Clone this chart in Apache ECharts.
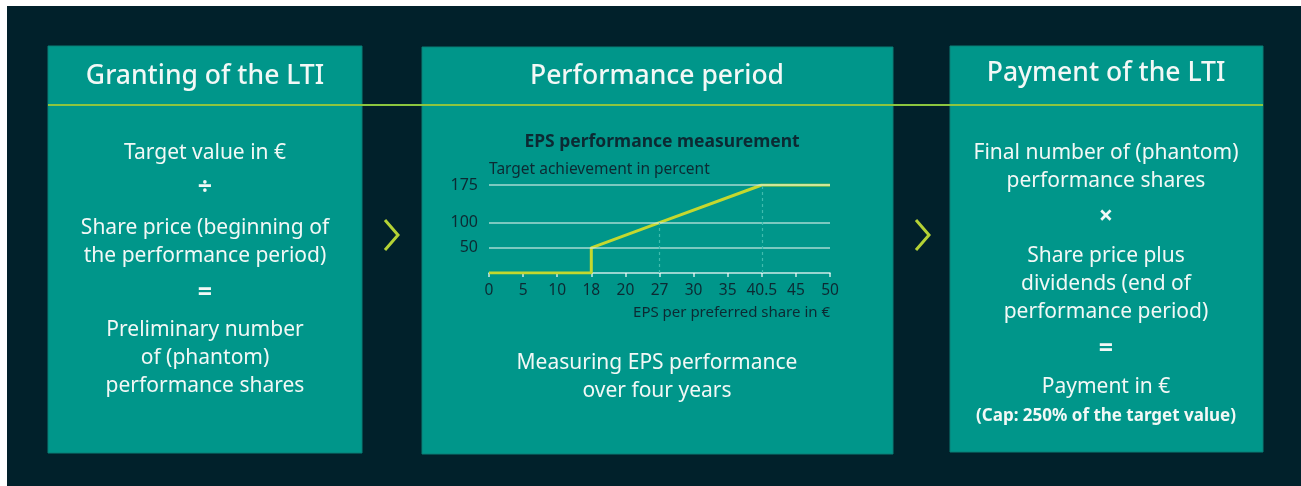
<!DOCTYPE html>
<html>
<head>
<meta charset="utf-8">
<script src="https://cdn.jsdelivr.net/npm/echarts@6/dist/echarts.min.js"></script>
<style>
  html, body { margin: 0; padding: 0; background: #ffffff; }
  #main { width: 1301px; height: 486px; }
</style>
</head>
<body>
<div id="main"></div>
<script>
// x axis categories (EPS per preferred share in €), evenly spaced in the source
var epsLabels = ['0', '5', '10', '18', '20', '27', '30', '35', '40.5', '45', '50'];
// knots of the target achievement curve
var curveEps = ['0', '18', '18', '27', '40.5', '50'];
var curvePct = [0, 0, 50, 100, 175, 175];
// y tick values shown on the axis
var pctTicks = [50, 100, 175];
// dashed guides: [eps, pct]
var guides = [['27', 100], ['40.5', 175]];

var chart = echarts.init(document.getElementById('main'), null, { renderer: 'canvas' });

var DARK = '#01212b';
var TEAL = '#00968a';
var INK = '#0c2a33';
var WHITE = '#f2f8f6';
var LIME = '#c4d82e';
var FONT = '"Noto Sans", "Open Sans", sans-serif';
var BODY = 21;
var HEAD = 26.5;

function txt(str, x, y, size, weight, color) {
  return {
    type: 'text',
    z: 5,
    style: {
      text: str,
      x: x,
      y: y,
      fill: color || WHITE,
      font: (weight || 'normal') + ' ' + size + 'px ' + FONT,
      align: 'center',
      verticalAlign: 'middle'
    }
  };
}

function panel(x1, y1, x2, y2) {
  return {
    type: 'rect',
    z: -5,
    shape: { x: x1, y: y1, width: x2 - x1, height: y2 - y1 },
    style: { fill: TEAL, stroke: '#0a7f76', lineWidth: 1 }
  };
}

function chevron(x, y) {
  return {
    type: 'polyline',
    z: 5,
    shape: { points: [[x, y - 15], [x + 13, y], [x, y + 15]] },
    style: { stroke: '#b4d235', lineWidth: 3, fill: null }
  };
}

var graphics = [
  { type: 'rect', z: -10, shape: { x: 7, y: 6, width: 1294, height: 480 }, style: { fill: DARK } },
  panel(48, 46, 362, 453),
  panel(422, 47, 893, 454),
  panel(950, 46, 1263, 452),
  { type: 'line', z: 4, shape: { x1: 48, y1: 105, x2: 1263, y2: 105 }, style: { stroke: '#8cc63f', lineWidth: 2 } },
  chevron(385, 235),
  chevron(916, 235),

  // panel 1
  txt('Granting of the LTI', 205, 76, HEAD, '500'),
  txt('Target value in €', 205, 153, BODY),
  txt('÷', 205, 188, 25, 'bold'),
  txt('Share price (beginning of', 205, 228, BODY),
  txt('the performance period)', 205, 256, BODY),
  txt('=', 205, 293, 25, 'bold'),
  txt('Preliminary number', 205, 330, BODY),
  txt('of (phantom)', 205, 358, BODY),
  txt('performance shares', 205, 386, BODY),

  // panel 2
  txt('Performance period', 657, 76, HEAD, '500'),
  txt('Measuring EPS performance', 657, 363, BODY),
  txt('over four years', 657, 391, BODY),

  // panel 3
  txt('Payment of the LTI', 1106, 73, HEAD, '500'),
  txt('Final number of (phantom)', 1106, 153, BODY),
  txt('performance shares', 1106, 181, BODY),
  txt('×', 1106, 217, 25, 'bold'),
  txt('Share price plus', 1106, 256, BODY),
  txt('dividends (end of', 1106, 284, BODY),
  txt('performance period)', 1106, 312, BODY),
  txt('=', 1106, 349, 25, 'bold'),
  txt('Payment in €', 1106, 387, BODY),
  txt('(Cap: 250% of the target value)', 1106, 416, 17, 'bold')
];

var curveData = curveEps.map(function (x, i) { return [x, curvePct[i]]; });

var option = {
  backgroundColor: '#ffffff',
  animation: false,
  title: {
    text: 'EPS performance measurement',
    left: 657,
    top: 128,
    textAlign: 'center',
    textStyle: { color: INK, fontSize: 17.5, fontWeight: 'bold', fontFamily: FONT }
  },
  graphic: graphics,
  grid: { left: 489, right: 471, top: 185, bottom: 213, containLabel: false },
  xAxis: {
    type: 'category',
    data: epsLabels,
    boundaryGap: false,
    name: 'EPS per preferred share in €',
    nameLocation: 'end',
    nameGap: 0,
    nameTextStyle: {
      color: INK, fontSize: 15, fontFamily: FONT,
      align: 'right', verticalAlign: 'top', padding: [32, 0, 0, 0]
    },
    axisLine: { lineStyle: { color: 'rgba(255,255,255,0.8)', width: 1.5 } },
    axisTick: { show: true, length: 4, lineStyle: { color: 'rgba(255,255,255,0.8)', width: 1.5 } },
    axisLabel: { color: INK, fontSize: 15.5, fontFamily: FONT, margin: 10, interval: 0 },
    splitLine: { show: false }
  },
  yAxis: {
    type: 'value',
    min: 0,
    max: 175,
    name: 'Target achievement in percent',
    nameLocation: 'end',
    nameGap: 15,
    nameTextStyle: { color: INK, fontSize: 15.5, fontFamily: FONT, align: 'left', verticalAlign: 'middle' },
    axisLine: { show: false },
    axisTick: { show: false },
    axisLabel: { color: INK, fontSize: 16, fontFamily: FONT, margin: 11, customValues: pctTicks },
    splitLine: { show: false }
  },
  series: [
    {
      name: 'guides',
      type: 'line',
      z: 1,
      data: curveData,
      symbol: 'none',
      lineStyle: { opacity: 0 },
      silent: true,
      markLine: {
        silent: true,
        symbol: 'none',
        label: { show: false },
        data: pctTicks.map(function (v) {
          return { yAxis: v, lineStyle: { color: 'rgba(220,240,236,0.75)', width: 1.5, type: 'solid' } };
        }).concat(guides.map(function (g) {
          return [
            { coord: [g[0], 0], lineStyle: { color: '#3fbcae', width: 1.2, type: [3, 3] } },
            { coord: [g[0], g[1]] }
          ];
        }))
      }
    },
    {
      name: 'Target achievement',
      type: 'line',
      z: 3,
      data: curveData,
      symbol: 'none',
      lineStyle: { color: LIME, width: 3 }
    }
  ]
};

chart.setOption(option);
</script>
</body>
</html>
